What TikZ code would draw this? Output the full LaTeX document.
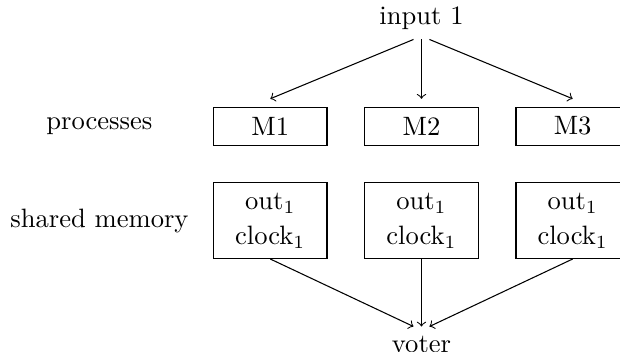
\documentclass[tikz,border=0pt]{standalone}
\begin{document}
\begin{tikzpicture}[
  box/.style={draw, minimum width=1.5cm, inner sep=0pt},
  procbox/.style={box, minimum height=0.5cm},
  membox/.style={box, minimum height=1cm, align=center},
  arr/.style={->}
]
\useasboundingbox (-5.575,1.669) rectangle (2.626,-2.974);
\node[procbox] (m1) at (-2,0) {M1};
\node[procbox] (m2) at (0,0) {M2};
\node[procbox] (m3) at (2,0) {M3};
\node[membox] (s1) at (-2,-1.25) {out$_1$\\[1.4pt]clock$_1$};
\node[membox] (s2) at (0,-1.25) {out$_1$\\[1.4pt]clock$_1$};
\node[membox] (s3) at (2,-1.25) {out$_1$\\[1.4pt]clock$_1$};
\node[anchor=south] (in) at (0,1.147) {input 1};
\node[anchor=north] (voter) at (0,-2.65) {voter};
\node (lp) at (-4.26,0) {processes};
\node (lm) at (-4.26,-1.25) {shared memory};
\draw[arr] ([xshift=-3pt]in.south) -- ([yshift=3pt]m1.north);
\draw[arr] (in.south) -- ([yshift=3pt]m2.north);
\draw[arr] ([xshift=3pt]in.south) -- ([yshift=3pt]m3.north);
\draw[arr] (s1.south) -- ([xshift=-3pt]voter.north);
\draw[arr] (s2.south) -- (voter.north);
\draw[arr] (s3.south) -- ([xshift=3pt]voter.north);
\end{tikzpicture}
\end{document}
